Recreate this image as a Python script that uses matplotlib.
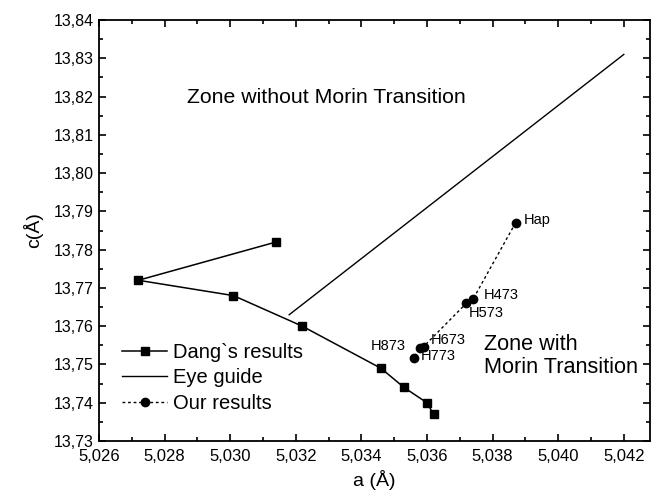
import matplotlib
matplotlib.use("Agg")
import matplotlib.pyplot as plt
from matplotlib.ticker import MultipleLocator, FuncFormatter

plt.rcParams['font.family'] = ['Liberation Sans', 'DejaVu Sans']

# Dang's results (a, c)
dang_a = [5.0314, 5.0272, 5.0301, 5.0322, 5.0346, 5.0353, 5.0360, 5.0362]
dang_c = [13.782, 13.772, 13.768, 13.760, 13.749, 13.744, 13.740, 13.737]

# Eye guide
eye_a = [5.0318, 5.0420]
eye_c = [13.763, 13.831]

# Our results
our_labels = ["Hap", "H473", "H573", "H673", "H773", "H873"]
our_a = [5.0387, 5.0374, 5.0372, 5.0359, 5.0358, 5.0356]
our_c = [13.787, 13.767, 13.766, 13.7547, 13.7543, 13.7518]

# label offsets in points (dx, dy)
label_offsets = [(6, 2), (8, 3), (2, -7), (5, 5), (0, -6), (-31, 8)]

fig = plt.figure(figsize=(6.51, 4.95), dpi=100)
ax = fig.add_axes([0.152, 0.109, 0.8465, 0.8506])

ax.plot(dang_a, dang_c, '-', color='black', lw=1.1, marker='s', ms=6,
        label="Dang`s results")
ax.plot(eye_a, eye_c, '-', color='black', lw=1.0, label="Eye guide")
ax.plot(our_a, our_c, color='black', lw=1.0, linestyle=(0, (2, 2)),
        marker='o', ms=6, label="Our results")

for lab, a, c, off in zip(our_labels, our_a, our_c, label_offsets):
    ax.annotate(lab, (a, c), xytext=off, textcoords='offset points',
                fontsize=10.5, va='center', ha='left')

ax.text(0.160, 0.817, "Zone without Morin Transition", transform=ax.transAxes,
        fontsize=15.3, va='center', ha='left')
ax.text(0.699, 0.202, "Zone with\nMorin Transition", transform=ax.transAxes,
        fontsize=15.6, va='center', ha='left', linespacing=1.1)

ax.set_xlim(5.026, 5.0428)
ax.set_ylim(13.73, 13.84)
ax.xaxis.set_major_locator(MultipleLocator(0.002))
ax.xaxis.set_minor_locator(MultipleLocator(0.001))
ax.yaxis.set_major_locator(MultipleLocator(0.01))
ax.yaxis.set_minor_locator(MultipleLocator(0.005))
ax.xaxis.set_major_formatter(FuncFormatter(lambda v, p: f"{v:.3f}".replace('.', ',')))
ax.yaxis.set_major_formatter(FuncFormatter(lambda v, p: f"{v:.2f}".replace('.', ',')))
ax.tick_params(which='both', direction='in', top=True, right=True, width=1.2)
ax.tick_params(axis='x', labelsize=12, pad=6)
ax.tick_params(axis='y', labelsize=11.5)
ax.tick_params(which='major', length=5)
ax.tick_params(which='minor', length=3)
for s in ax.spines.values():
    s.set_linewidth(1.3)

ax.set_xlabel("a (Å)", fontsize=14, labelpad=4)
ax.set_ylabel("c(Å)", fontsize=14, labelpad=8)

ax.legend(loc='upper left', bbox_to_anchor=(0.027, 0.252), frameon=False,
          fontsize=14.5, handlelength=2.25, handletextpad=0.3, labelspacing=0.32,
          borderaxespad=0)

fig.savefig("out.png", dpi=100)
